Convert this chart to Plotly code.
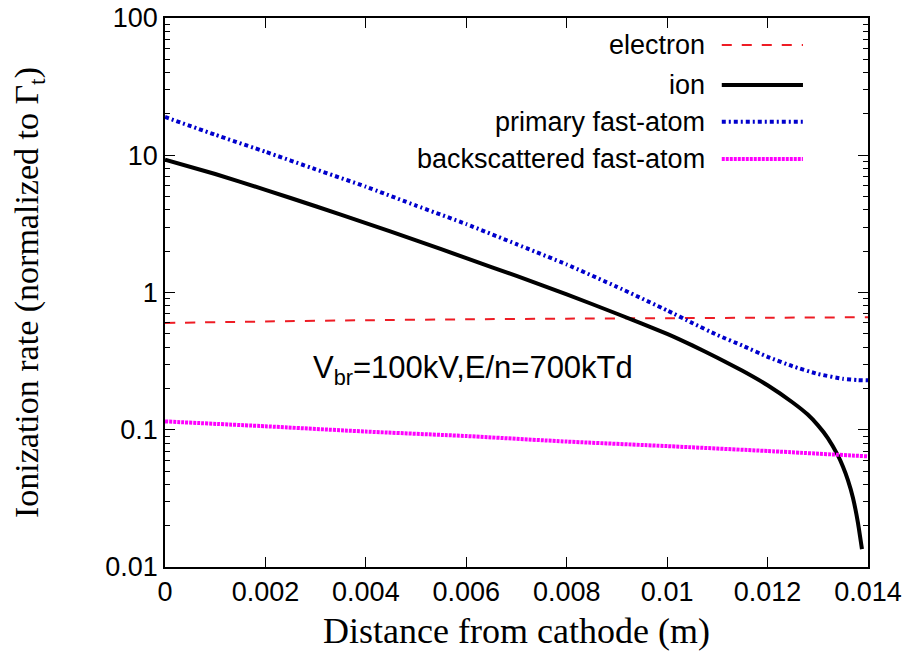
import plotly.graph_objects as go

# ---- data ----
x_electron = [0.0, 0.002, 0.004, 0.006, 0.008, 0.010, 0.012, 0.014]
y_electron = [0.60, 0.615, 0.628, 0.638, 0.645, 0.650, 0.655, 0.660]

x_ion = [0.0, 0.001, 0.002, 0.003, 0.004, 0.005, 0.006, 0.007, 0.008, 0.009,
         0.010, 0.0105, 0.011, 0.0115, 0.012, 0.0125, 0.0128, 0.013, 0.0132,
         0.0134, 0.0135, 0.0136, 0.0137, 0.0138, 0.01388]
y_ion = [9.3, 7.3, 5.6, 4.25, 3.2, 2.4, 1.78, 1.32, 0.97, 0.70,
         0.50, 0.412, 0.335, 0.269, 0.211, 0.158, 0.129, 0.108, 0.087,
         0.065, 0.054, 0.043, 0.032, 0.021, 0.0135]

x_primary = [0.0, 0.001, 0.002, 0.003, 0.004, 0.005, 0.006, 0.007, 0.008,
             0.009, 0.010, 0.0105, 0.011, 0.0115, 0.012, 0.0125, 0.013,
             0.0135, 0.0138, 0.014]
y_primary = [19.0, 14.1, 10.6, 7.9, 5.9, 4.3, 3.15, 2.25, 1.6,
             1.1, 0.74, 0.60, 0.49, 0.41, 0.34, 0.29, 0.255,
             0.235, 0.23, 0.229]

x_back = [0.0, 0.002, 0.004, 0.006, 0.008, 0.010, 0.012, 0.014]
y_back = [0.115, 0.106, 0.097, 0.090, 0.082, 0.076, 0.070, 0.064]

x_ticks = [0, 0.002, 0.004, 0.006, 0.008, 0.01, 0.012, 0.014]
x_ticklabels = ["0", "0.002", "0.004", "0.006", "0.008", "0.01", "0.012", "0.014"]
y_ticks = [0.01, 0.1, 1, 10, 100]
y_ticklabels = ["0.01", "0.1", "1", "10", "100"]
y_minor = [m * 10.0 ** e for e in (-2, -1, 0, 1) for m in range(2, 10)]

names = ["electron", "ion", "primary fast-atom", "backscattered fast-atom"]
colors = ["#ee1c24", "#000000", "#0000cc", "#ff00ff"]
dashes = ["10px,10px", "solid", "4px,3px,2px,3px", "3px,1px"]
widths = [2, 4, 4, 4]

SANS = "Liberation Sans, Arial, sans-serif"
SERIF = "Liberation Serif, Times New Roman, serif"

fig = go.Figure()
series = [(x_electron, y_electron), (x_ion, y_ion), (x_primary, y_primary), (x_back, y_back)]
for (xs, ys), n, c, d, w in zip(series, names, colors, dashes, widths):
    fig.add_trace(go.Scatter(x=xs, y=ys, mode="lines", name=n, showlegend=False,
                             line=dict(color=c, dash=d, width=w, shape="spline", smoothing=0.4)))

# gnuplot-style legend: right-aligned text, sample line to the right
row_y = [0.951, 0.878, 0.811, 0.743]
for n, c, d, w, yy in zip(names, colors, dashes, widths, row_y):
    fig.add_annotation(x=0.771, y=yy, xref="paper", yref="paper", text=n,
                       showarrow=False, xanchor="right", yanchor="middle",
                       font=dict(family=SANS, size=27, color="black"))
    fig.add_shape(type="line", xref="paper", yref="paper", x0=0.792, x1=0.9075,
                  y0=yy, y1=yy, line=dict(color=c, dash=d, width=w))

fig.add_annotation(x=0.208, y=0.358, xref="paper", yref="paper",
                   text="V<sub>br</sub>=100kV,E/n=700kTd", showarrow=False,
                   xanchor="left", yanchor="middle",
                   font=dict(family=SANS, size=31, color="black"))

fig.update_xaxes(range=[0, 0.014], tickvals=x_ticks, ticktext=x_ticklabels,
                 ticks="inside", ticklen=10, tickwidth=1, tickcolor="black",
                 showline=True, linecolor="black", linewidth=1.5, mirror="allticks",
                 showgrid=False, zeroline=False, ticklabeloverflow="allow",
                 automargin="bottom",
                 tickfont=dict(family=SANS, size=27, color="black"),
                 title=dict(text="Distance from cathode (m)",
                            font=dict(family=SERIF, size=36, color="black"), standoff=12))
fig.update_yaxes(type="log", range=[-2, 2], tickvals=y_ticks, ticktext=y_ticklabels,
                 ticks="inside", ticklen=10, tickwidth=1, tickcolor="black",
                 showline=True, linecolor="black", linewidth=1.5, mirror="allticks",
                 showgrid=False, zeroline=False, ticklabeloverflow="allow",
                 automargin="left",
                 minor=dict(tickvals=y_minor, ticks="inside", ticklen=5,
                            tickcolor="black", showgrid=False),
                 tickfont=dict(family=SANS, size=27, color="black"),
                 title=dict(text="Ionization rate (normalized to Γ<sub>t</sub>)",
                            font=dict(family=SERIF, size=34, color="black"), standoff=62))

fig.update_layout(width=904, height=646, plot_bgcolor="white", paper_bgcolor="white",
                  margin=dict(l=157, r=44, t=10, b=87), showlegend=False)

fig.write_html("out.html")
